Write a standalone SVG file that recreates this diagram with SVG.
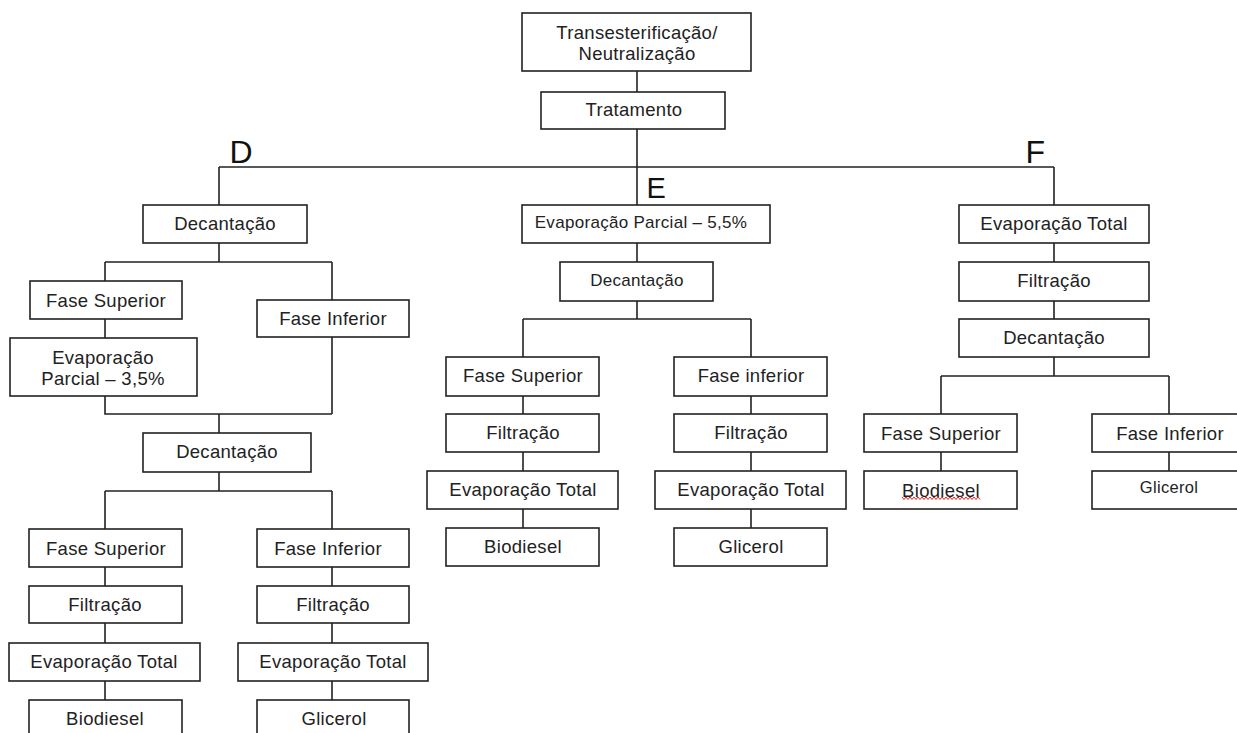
<svg xmlns="http://www.w3.org/2000/svg" width="1237" height="733" viewBox="0 0 1237 733">
<style>
  .box rect { fill: #fff; stroke: #222; stroke-width: 1.6; }
  .box text { font-family: "Liberation Sans", Arial, sans-serif; font-size: 18.5px; fill: #222; text-anchor: middle; letter-spacing: 0.3px; }
  .sm text { font-size: 17px; }
  .xs text { font-size: 16.5px; }
  .conn path { fill: none; stroke: #222; stroke-width: 1.6; }
  .lbl { font-family: "Liberation Sans", Arial, sans-serif; fill: #111; }
</style>
<rect width="1237" height="733" fill="#fff"/>

<g class="conn" id="connectors">
  <path d="M637 71V92M637 129V205M219 167H1054M219 167V205M1054 167V205"/>
  <!-- D column -->
  <path d="M219 243V262M105 262H332M105 262V281M332 262V300M105 319V338M105 396V414H332M332 337V414M219 414V433M219 472V491M105 491H332M105 491V529M332 491V529"/>
  <path d="M105 567V586M105 623V643M105 681V700M332 567V586M332 623V643M332 681V700"/>
  <!-- E column -->
  <path d="M637 243V262M637 301V319M523 319H751M523 319V357M751 319V357M523 396V414M523 452V471M523 509V528M751 396V414M751 452V471M751 509V528"/>
  <!-- F column -->
  <path d="M1054 243V262M1054 301V319M1054 357V376M941 376H1169M941 376V414M1169 376V414M941 452V471M1169 452V471"/>
</g>

<text class="lbl" x="229.5" y="163" font-size="32">D</text>
<text class="lbl" x="646.5" y="198" font-size="29">E</text>
<text class="lbl" x="1025.5" y="163" font-size="32">F</text>

<g class="box" id="n-trans"><rect x="522" y="13" width="229" height="58"/><text x="637" y="39">Transesterificação/</text><text x="637" y="60">Neutralização</text></g>
<g class="box" id="n-trat"><rect x="541" y="92" width="184" height="37"/><text x="634" y="116">Tratamento</text></g>

<!-- D column -->
<g class="box" id="d-dec1"><rect x="143" y="205" width="164" height="38"/><text x="225" y="230">Decantação</text></g>
<g class="box" id="d-fs1"><rect x="30" y="281" width="152" height="38"/><text x="106" y="306.5">Fase Superior</text></g>
<g class="box" id="d-fi1"><rect x="257" y="300" width="152" height="37"/><text x="333" y="325">Fase Inferior</text></g>
<g class="box" id="d-evp"><rect x="10" y="338" width="187" height="58"/><text x="103" y="364">Evaporação</text><text x="103" y="385">Parcial – 3,5%</text></g>
<g class="box" id="d-dec2"><rect x="143" y="433" width="168" height="39"/><text x="227" y="458">Decantação</text></g>
<g class="box" id="d-fs2"><rect x="29" y="529" width="153" height="38"/><text x="106" y="554.5">Fase Superior</text></g>
<g class="box" id="d-fil1"><rect x="29" y="586" width="153" height="37"/><text x="105" y="611">Filtração</text></g>
<g class="box" id="d-evt1"><rect x="9" y="643" width="191" height="38"/><text x="104" y="668">Evaporação Total</text></g>
<g class="box" id="d-bio"><rect x="29" y="700" width="153" height="40"/><text x="105" y="725">Biodiesel</text></g>
<g class="box" id="d-fi2"><rect x="257" y="529" width="152" height="38"/><text x="328" y="554.5">Fase Inferior</text></g>
<g class="box" id="d-fil2"><rect x="257" y="586" width="152" height="37"/><text x="333" y="611">Filtração</text></g>
<g class="box" id="d-evt2"><rect x="238" y="643" width="190" height="38"/><text x="333" y="668">Evaporação Total</text></g>
<g class="box" id="d-gli"><rect x="257" y="700" width="152" height="40"/><text x="334" y="725">Glicerol</text></g>

<!-- E column -->
<g class="box sm" id="e-evp"><rect x="522" y="205" width="248" height="38"/><text x="641" y="228">Evaporação Parcial – 5,5%</text></g>
<g class="box sm" id="e-dec"><rect x="560" y="262" width="153" height="39"/><text x="637" y="285.5">Decantação</text></g>
<g class="box" id="e-fs"><rect x="446" y="357" width="153" height="39"/><text x="523" y="382">Fase Superior</text></g>
<g class="box" id="e-fil1"><rect x="446" y="414" width="153" height="38"/><text x="523" y="439">Filtração</text></g>
<g class="box" id="e-evt1"><rect x="427" y="471" width="191" height="38"/><text x="523" y="496">Evaporação Total</text></g>
<g class="box" id="e-bio"><rect x="446" y="528" width="153" height="38"/><text x="523" y="553">Biodiesel</text></g>
<g class="box" id="e-fi"><rect x="674" y="357" width="153" height="39"/><text x="751" y="382">Fase inferior</text></g>
<g class="box" id="e-fil2"><rect x="674" y="414" width="153" height="38"/><text x="751" y="439">Filtração</text></g>
<g class="box" id="e-evt2"><rect x="655" y="471" width="191" height="38"/><text x="751" y="496">Evaporação Total</text></g>
<g class="box" id="e-gli"><rect x="674" y="528" width="153" height="38"/><text x="751" y="553">Glicerol</text></g>

<!-- F column -->
<g class="box" id="f-evt"><rect x="959" y="205" width="190" height="38"/><text x="1054" y="230">Evaporação Total</text></g>
<g class="box" id="f-fil"><rect x="959" y="262" width="190" height="39"/><text x="1054" y="287">Filtração</text></g>
<g class="box" id="f-dec"><rect x="959" y="319" width="190" height="38"/><text x="1054" y="344">Decantação</text></g>
<g class="box" id="f-fs"><rect x="864" y="414" width="153" height="38"/><text x="941" y="439.5">Fase Superior</text></g>
<g class="box" id="f-bio"><rect x="864" y="471" width="153" height="38"/><text x="941" y="496.5">Biodiesel</text>
  <polyline points="902,497 904,499.5 906,497 908,499.5 910,497 912,499.5 914,497 916,499.5 918,497 920,499.5 922,497 924,499.5 926,497 928,499.5 930,497 932,499.5 934,497 936,499.5 938,497 940,499.5 942,497 944,499.5 946,497 948,499.5 950,497 952,499.5 954,497 956,499.5 958,497 960,499.5 962,497 964,499.5 966,497 968,499.5 970,497 972,499.5 974,497 976,499.5 978,497 980,499.5" fill="none" stroke="#e02020" stroke-width="1"/></g>
<g class="box" id="f-fi"><rect x="1092" y="414" width="154" height="38"/><text x="1170" y="439.5">Fase Inferior</text></g>
<g class="box xs" id="f-gli"><rect x="1092" y="471" width="154" height="38"/><text x="1169" y="493">Glicerol</text></g>
</svg>
